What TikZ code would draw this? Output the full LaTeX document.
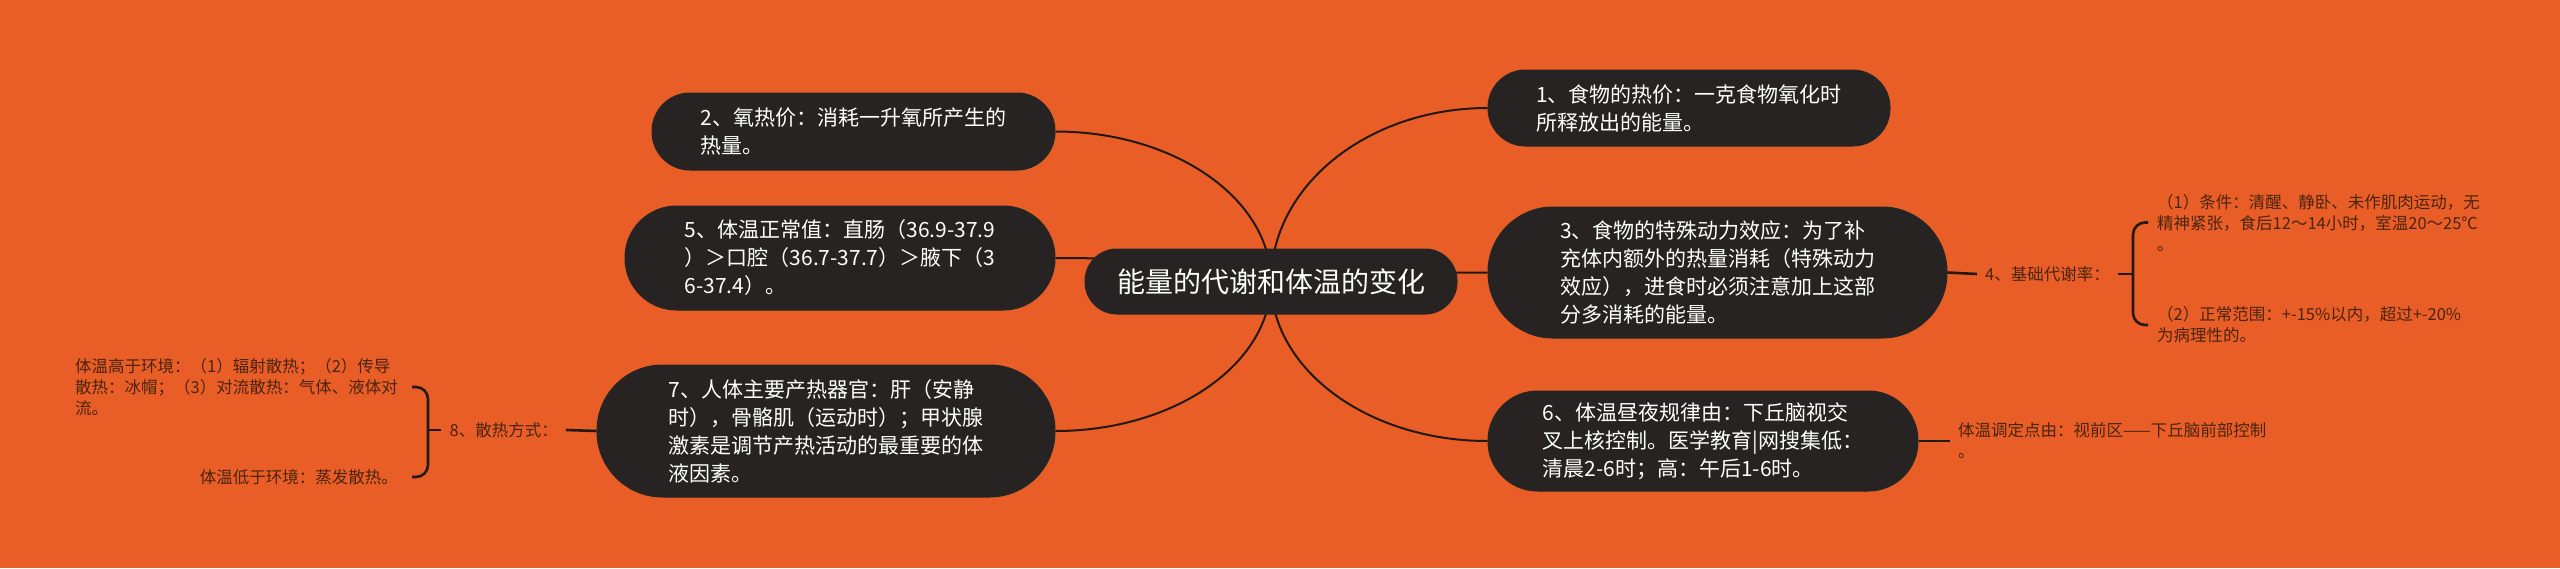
\documentclass[tikz,border=0pt]{standalone}
\usepackage{fontspec}
\setmainfont{Noto Sans CJK SC}
\usetikzlibrary{calc}
\definecolor{bgc}{HTML}{E95E27}
\definecolor{nodec}{HTML}{262322}
\definecolor{linec}{HTML}{221912}
\definecolor{smallc}{HTML}{4A2410}
\pgfdeclarelayer{bglayer}
\pgfdeclarelayer{conlayer}
\pgfsetlayers{bglayer,conlayer,main}
\begin{document}
\begin{tikzpicture}[x=1pt,y=-1pt,
  box/.style={draw=black!85, line width=1pt, fill=nodec, text=white, align=left,
    inner sep=0pt, font=\fontsize{21}{28}\selectfont},
  pill/.style n args={3}{minimum width=#1pt, minimum height=#2pt, rounded corners=#3pt},
  small/.style={text=smallc, align=left, inner xsep=8pt, inner ysep=0pt,
    font=\fontsize{16.5}{21}\selectfont},
  conn/.style={draw=linec, line width=2pt},
  side/.style={draw=linec, line width=2.6pt}]
\useasboundingbox (0,0) rectangle (2560,568);
\begin{pgfonlayer}{bglayer}
\fill[bgc] (0,0) rectangle (2560,568);
\end{pgfonlayer}

% central topic
\node[box, pill={372}{65}{32}, align=center, font=\fontsize{28}{34}\selectfont] (c) at (1271,281.5) {能量的代谢和体温的变化};

% left branches
\node[box, pill={403}{77}{38}] (n2) at (853.5,131.5) {2、氧热价：消耗一升氧所产生的\\热量。};
\node[box, pill={430}{104}{51.5}] (n5) at (840,258) {5、体温正常值：直肠（36.9-37.9\\）＞口腔（36.7-37.7）＞腋下（3\\6-37.4）。};
\node[box, pill={458}{132}{65.5}] (n7) at (826,431) {7、人体主要产热器官：肝（安静\\时），骨骼肌（运动时）；甲状腺\\激素是调节产热活动的最重要的体\\液因素。};

% right branches
\node[box, pill={402}{76}{37.5}] (n1) at (1689,108) {1、食物的热价：一克食物氧化时\\所释放出的能量。};
\node[box, pill={459}{131}{65}] (n3) at (1717.5,272.5) {3、食物的特殊动力效应：为了补\\充体内额外的热量消耗（特殊动力\\效应），进食时必须注意加上这部\\分多消耗的能量。};
\node[box, pill={430}{100}{49.5}] (n6) at (1703,441) {6、体温昼夜规律由：下丘脑视交\\叉上核控制。医学教育|网搜集低：\\清晨2-6时；高：午后1-6时。};

% connectors from the central topic
\begin{pgfonlayer}{conlayer}
\foreach \n/\a in {n2/east,n5/east,n7/east,n1/west,n3/west,n6/west}{
  \coordinate (k) at (c.center|-\n.\a);
  \draw[conn] (c.center) .. controls ($(c.center)!0.552!(k)$) and ($(\n.\a)!0.552!(k)$) .. (\n.\a);
}
\end{pgfonlayer}

% 4、基础代谢率
\node[small, anchor=west] (L4) at (1977,274) {4、基础代谢率：};
\coordinate (b4) at (2133,274);
\node[small, anchor=west, inner xsep=9pt] (t41) at (2148,222.5) {（1）条件：清醒、静卧、未作肌肉运动，无\\精神紧张，食后12～14小时，室温20～25℃\\。};
\node[small, anchor=west, inner xsep=9pt] (t42) at (2148,325) {（2）正常范围：+-15\%以内，超过+-20\%\\为病理性的。};
\draw[side] (n3.east) -- (L4.west);
\draw[side] (L4.east) -- (b4);
\draw[side, rounded corners=12pt] (t41.west) -| (b4) |- (t42.west);

% 体温调定点
\node[small, anchor=west] (L6) at (1950,441) {体温调定点由：视前区——下丘脑前部控制\\。};
\draw[side] (n6.east) -- (L6.west);

% 8、散热方式
\node[small, anchor=east] (L8) at (566,430) {8、散热方式：};
\coordinate (b8) at (428,430);
\node[small, anchor=east, inner xsep=14pt] (t81) at (412,387) {体温高于环境：（1）辐射散热；（2）传导\\散热：冰帽；（3）对流散热：气体、液体对\\流。};
\node[small, anchor=east, inner xsep=14pt, align=right] (t82) at (412,477) {体温低于环境：蒸发散热。};
\draw[side] (n7.west) -- (L8.east);
\draw[side] (L8.west) -- (b8);
\draw[side, rounded corners=12pt] (t81.east) -| (b8) |- (t82.east);
\end{tikzpicture}
\end{document}
